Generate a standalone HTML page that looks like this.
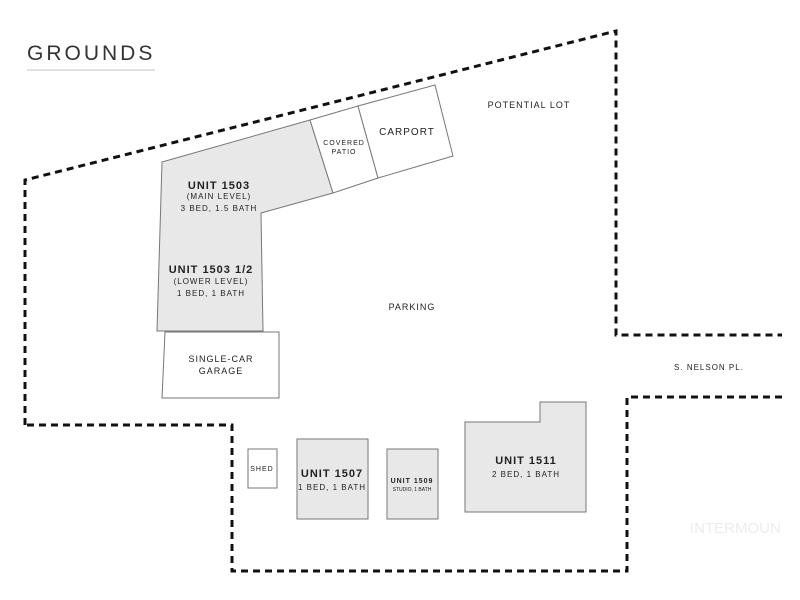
<!DOCTYPE html>
<html><head><meta charset="utf-8"><style>
html,body{margin:0;padding:0;background:#fff;}
svg{display:block;}
text{font-family:"Liberation Sans",sans-serif;fill:#222;letter-spacing:1px;}
.b{font-weight:bold;}
</style></head><body>
<svg width="800" height="600" viewBox="0 0 800 600" xmlns="http://www.w3.org/2000/svg">
<text x="27" y="60" font-size="21" style="letter-spacing:3px;fill:#333">GROUNDS</text>
<line x1="27" y1="70" x2="155" y2="70" stroke="#c9c3b8" stroke-width="1"/>
<g fill="none" stroke="#111" stroke-width="3" stroke-dasharray="7,5">
<polyline points="25,425 25,180 616,31 616,335 782,335"/>
<polyline points="782,397 627,397 627,571 232,571 232,425 25,425"/>
</g>
<g stroke="#777" stroke-width="1">
<polygon points="162,162 310,120 333,193 261,213 263,331 157,331" fill="#e8e8e8"/>
<polygon points="310,120 358,106 378,178 333,193" fill="#fff"/>
<polygon points="358,106 435,85 453,156 378,178" fill="#fff"/>
<polygon points="165,332 279,332 279,398 162,398" fill="#fff"/>
<rect x="248" y="449" width="29" height="39" fill="#fff"/>
<rect x="297" y="439" width="71" height="80" fill="#e8e8e8"/>
<rect x="387" y="449" width="51" height="70" fill="#e8e8e8"/>
<polygon points="465,422 540,422 540,402 586,402 586,512 465,512" fill="#e8e8e8"/>
</g>
<g text-anchor="middle">
<text class="b" x="219" y="189" font-size="11">UNIT 1503</text>
<text x="219" y="199" font-size="8">(MAIN LEVEL)</text>
<text x="219" y="211" font-size="8">3 BED, 1.5 BATH</text>
<text class="b" x="211" y="273" font-size="11">UNIT 1503 1/2</text>
<text x="211" y="284" font-size="8">(LOWER LEVEL)</text>
<text x="211" y="296" font-size="8">1 BED, 1 BATH</text>
<text x="344" y="145" font-size="7">COVERED</text>
<text x="344" y="154" font-size="7">PATIO</text>
<text x="407" y="135" font-size="10">CARPORT</text>
<text x="529" y="108" font-size="9">POTENTIAL LOT</text>
<text x="412" y="310" font-size="9">PARKING</text>
<text x="221" y="362" font-size="9">SINGLE-CAR</text>
<text x="221" y="374" font-size="9">GARAGE</text>
<text x="709" y="370" font-size="8">S. NELSON PL.</text>
<text x="262" y="471" font-size="7">SHED</text>
<text class="b" x="332" y="477" font-size="11">UNIT 1507</text>
<text x="332" y="490" font-size="8">1 BED, 1 BATH</text>
<text class="b" x="412" y="483" font-size="7">UNIT 1509</text>
<text x="412" y="491" font-size="5" style="letter-spacing:0">STUDIO, 1 BATH</text>
<text class="b" x="526" y="464" font-size="11">UNIT 1511</text>
<text x="526" y="477" font-size="8">2 BED, 1 BATH</text>
</g>
<text x="690" y="533" font-size="15" style="fill:#ececec;letter-spacing:0">INTERMOUN</text>
</svg>
</body></html>
